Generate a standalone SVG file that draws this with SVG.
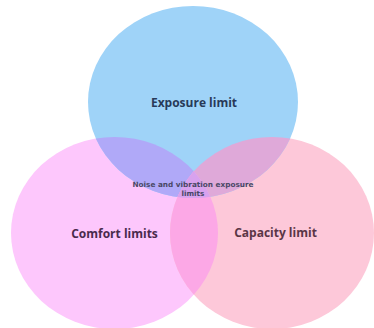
<svg xmlns="http://www.w3.org/2000/svg" width="374" height="328" viewBox="0 0 374 328">
  <style>
    .label { font-family: "Open Sans", "Noto Sans", sans-serif; font-weight: 700; font-size: 12px; text-anchor: middle; }
    .small { font-family: "DejaVu Sans", Verdana, sans-serif; font-weight: 700; font-size: 7.3px; fill: #4a4866; text-anchor: middle; }
  </style>
  <defs>
    <ellipse id="shape-top" cx="193" cy="102" rx="105" ry="96"/>
    <ellipse id="shape-left" cx="114.5" cy="233" rx="103.5" ry="96"/>
    <ellipse id="shape-right" cx="272" cy="233" rx="102" ry="96"/>
    <clipPath id="clip-top"><use href="#shape-top"/></clipPath>
    <clipPath id="clip-left"><use href="#shape-left"/></clipPath>
    <clipPath id="clip-right"><use href="#shape-right"/></clipPath>
  </defs>
  <rect width="374" height="328" fill="#ffffff"/>

  <g id="comfort-limits">
    <use href="#shape-left" fill="#fdc7fc"/>
  </g>
  <g id="capacity-limit">
    <use href="#shape-right" fill="#fdc8d9"/>
  </g>
  <g id="exposure-limit">
    <use href="#shape-top" fill="#9fd3f8"/>
  </g>

  <!-- overlap regions -->
  <g id="overlaps">
    <use href="#shape-left" fill="#b0a9f8" clip-path="url(#clip-top)"/>
    <use href="#shape-right" fill="#dfa9d9" clip-path="url(#clip-top)"/>
    <use href="#shape-left" fill="#fca8e6" clip-path="url(#clip-right)"/>
    <g clip-path="url(#clip-top)">
      <use href="#shape-left" fill="#d8a2ee" clip-path="url(#clip-right)"/>
    </g>
  </g>

  <g id="labels">
    <text class="label" x="194" y="107" fill="#283a58">Exposure limit</text>
    <text class="label" x="114.5" y="237.5" fill="#4a2a4c">Comfort limits</text>
    <text class="label" x="275.5" y="237" fill="#5a3646">Capacity limit</text>
    <text class="small" x="193" y="187">Noise and vibration exposure</text>
    <text class="small" x="193" y="195.5">limits</text>
  </g>
</svg>
